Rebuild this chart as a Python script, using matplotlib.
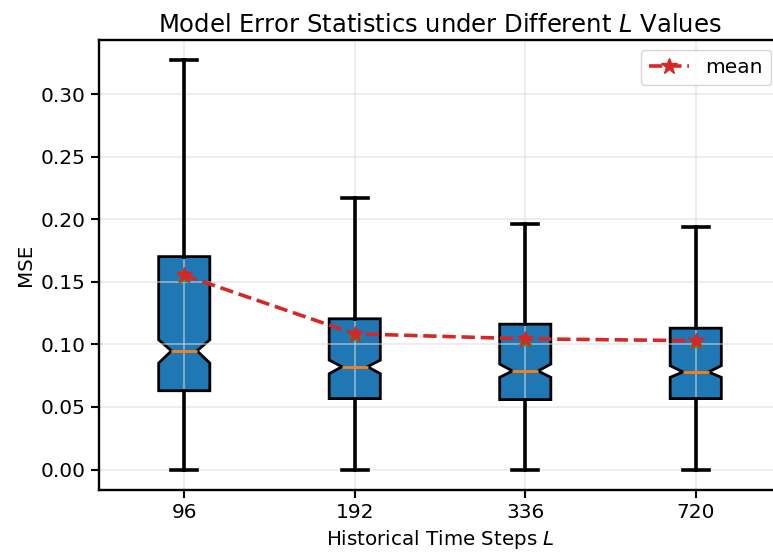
import matplotlib
matplotlib.use("Agg")
import matplotlib.pyplot as plt

labels = ["96", "192", "336", "720"]
whislo = [0.0, 0.0, 0.0, 0.0]
q1 = [0.063, 0.0567, 0.0559, 0.0567]
med = [0.0949, 0.0822, 0.0788, 0.078]
q3 = [0.1702, 0.1205, 0.1162, 0.113]
whishi = [0.327, 0.217, 0.196, 0.1935]
means = [0.1553, 0.1085, 0.1045, 0.103]
cilo = [0.0851, 0.0766, 0.0737, 0.0737]
cihi = [0.1037, 0.0875, 0.0843, 0.083]

stats = []
for i in range(len(labels)):
    stats.append(dict(label=labels[i], whislo=whislo[i], q1=q1[i], med=med[i],
                      q3=q3[i], whishi=whishi[i], mean=means[i],
                      cilo=cilo[i], cihi=cihi[i], fliers=[]))

fig = plt.figure(figsize=(7.73, 5.55), dpi=100)
ax = fig.add_axes([99/773, 1 - 490/555, 682/773, 450/555])

positions = list(range(1, len(labels) + 1))
bp = ax.bxp(stats, positions=positions, widths=0.3, shownotches=True, showmeans=True,
            patch_artist=True,
            boxprops=dict(facecolor="#1f77b4", edgecolor="black", linewidth=2),
            whiskerprops=dict(color="black", linewidth=2.6),
            capprops=dict(color="black", linewidth=2.6),
            medianprops=dict(color="#ff7f0e", linewidth=2),
            meanprops=dict(marker="^", markerfacecolor="#2ca02c", markeredgecolor="#2ca02c", markersize=9))
for b in bp["boxes"]:
    b.set_zorder(1)
for key in ("whiskers", "caps"):
    for l in bp[key]:
        l.set_zorder(3)
for l in bp["medians"]:
    l.set_zorder(3)
for l in bp["means"]:
    l.set_zorder(3)

ax.plot(positions, means, linestyle="--", color="#d62728", marker="*", markersize=12,
        linewidth=2.6, label="mean", zorder=5)

ax.set_xticks(positions)
ax.set_xticklabels(labels)
ax.set_xlim(0.5, 4.5)
ax.grid(True, color="#dddddd", alpha=0.6, linewidth=1.2, zorder=2)
for gl in ax.get_xgridlines() + ax.get_ygridlines():
    gl.set_zorder(2)
ax.tick_params(labelsize=14.5, width=1.5, length=6)
for s in ax.spines.values():
    s.set_linewidth(1.7)
ax.set_xlabel("Historical Time Steps $L$", fontsize=14.3)
ax.set_ylabel("MSE", fontsize=14.3)
ax.set_title("Model Error Statistics under Different $L$ Values", fontsize=17.5)
ax.legend(loc="upper right", fontsize=14.5)

fig.savefig("out.png", dpi=100)
